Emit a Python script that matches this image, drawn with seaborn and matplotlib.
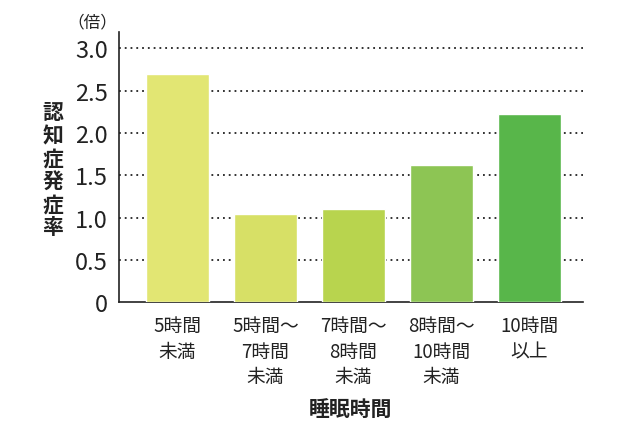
import matplotlib
matplotlib.use("Agg")
import matplotlib.pyplot as plt
import seaborn as sns
import pandas as pd

categories = ["5時間\n未満", "5時間～\n7時間\n未満", "7時間～\n8時間\n未満", "8時間～\n10時間\n未満", "10時間\n以上"]
values = [2.69, 1.04, 1.10, 1.62, 2.22]
colors = ["#e2e673", "#d7e066", "#b8d44e", "#8dc554", "#58b64a"]
yticks = [0, 0.5, 1.0, 1.5, 2.0, 2.5, 3.0]
ytick_labels = ["0", "0.5", "1.0", "1.5", "2.0", "2.5", "3.0"]
ylabel = "認知症発症率"
xlabel = "睡眠時間"
unit = "（倍）"

sns.set_theme(style="white")
plt.rcParams['font.family'] = ['Noto Sans CJK JP', 'DejaVu Sans']

df = pd.DataFrame({"cat": categories, "val": values})

fig = plt.figure(figsize=(6.4, 4.35), dpi=100)
ax = fig.add_axes([0.186, 0.3028, 0.725, 0.6212])

sns.barplot(data=df, x="cat", y="val", hue="cat", palette=colors, legend=False,
            width=0.72, ax=ax, saturation=1, zorder=3)

ax.set_xlim(-0.665, 4.61)
ax.set_ylim(0, 3.19)
ax.set_yticks(yticks)
ax.set_yticklabels(ytick_labels, fontsize=17, color="#222222")
ax.tick_params(axis="y", length=0, pad=8)
ax.tick_params(axis="x", length=0, pad=9, labelsize=13.5, colors="#222222")
for lbl in ax.get_xticklabels():
    lbl.set_linespacing(1.3)
    lbl.set_verticalalignment("top")

for y in yticks[1:]:
    ax.axhline(y, color="#222222", linewidth=1.3, linestyle=(0, (1, 2.2)), zorder=1)

for side in ["top", "right"]:
    ax.spines[side].set_visible(False)
for side in ["left", "bottom"]:
    ax.spines[side].set_color("#222222")
    ax.spines[side].set_linewidth(1.2)

ax.set_xlabel("")
ax.set_ylabel("")
fig.text(0.548, 0.058, xlabel, ha="center", va="center", fontsize=15, fontweight="bold", color="#222222")
fig.text(0.083, 0.609, "\n".join(ylabel), ha="center", va="center", fontsize=15,
         fontweight="bold", color="#222222", linespacing=1.12)
fig.text(0.145, 0.948, unit, ha="center", va="center", fontsize=12, color="#222222")

fig.savefig("out.png", dpi=100)
